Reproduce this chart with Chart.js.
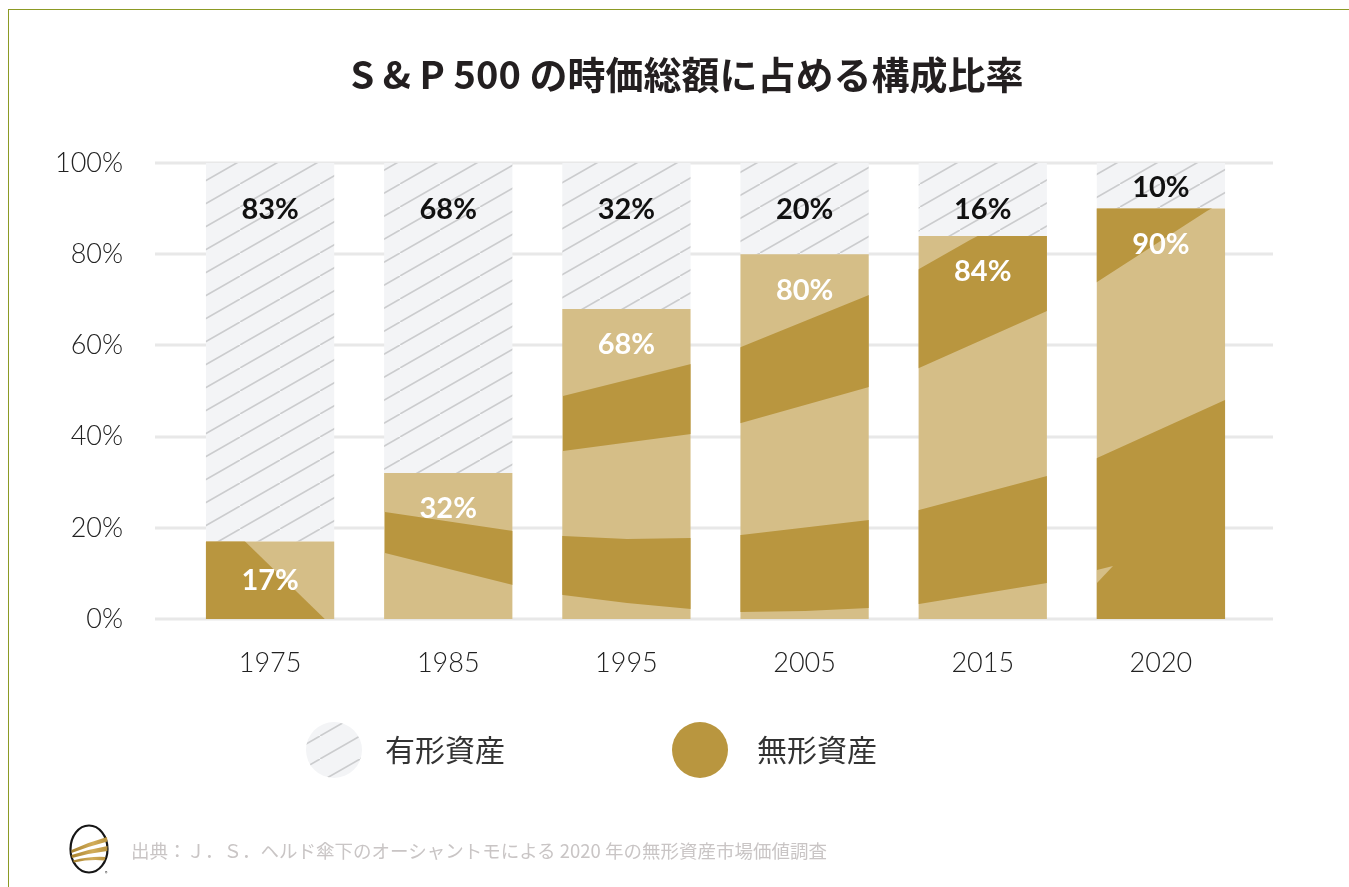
<!DOCTYPE html>
<html lang="ja">
<head>
<meta charset="utf-8">
<title>S &amp; P 500 の時価総額に占める構成比率</title>
<script src="https://cdn.jsdelivr.net/npm/chart.js@4.4.1/dist/chart.umd.min.js"></script>
<style>
    html, body { margin: 0; padding: 0; background: #fff; }
    #wrap { position: relative; width: 1349px; height: 887px; overflow: hidden; }
    #frame {
        position: absolute; left: 8px; top: 9px; width: 1400px; height: 900px;
        border-left: 1px solid #8c9a24; border-top: 1px solid #8c9a24;
    }
    #chart { position: absolute; left: 0; top: 0; }
    #source {
        position: absolute; left: 69px; top: 823px;
        display: flex; align-items: center;
        font-family: 'Noto Sans CJK JP', sans-serif; font-size: 18.5px;
        color: #c9c5c5; white-space: nowrap;
    }
    #source svg { margin-right: 20px; }
</style>
</head>
<body>
<div id="wrap">
    <div id="frame"></div>
    <canvas id="chart" width="1349" height="887"></canvas>
    <div id="source">
        <svg width="42" height="54" viewBox="0 0 42 54">
            <defs>
                <linearGradient id="gold" x1="0" x2="1" y1="0" y2="0">
                    <stop offset="0" stop-color="#a8822f"/>
                    <stop offset="0.6" stop-color="#d2ad5a"/>
                    <stop offset="1" stop-color="#b8923e"/>
                </linearGradient>
            </defs>
            <ellipse cx="20" cy="26" rx="18.5" ry="23.5" fill="#fff" stroke="#161616" stroke-width="2.2"/>
            <path d="M2.5,27 Q20,19 38,14 L38.4,18.5 Q21,23 2.5,30 Z" fill="url(#gold)"/>
            <path d="M2.5,32 Q21,26 38.5,23 L38.3,28 Q21,30 3,35 Z" fill="url(#gold)"/>
            <path d="M4,37.5 Q21,33 36.5,34 L35.5,37.5 Q21,36 5,39.5 Z" fill="url(#gold)"/>
            <text x="36" y="52" font-size="5" fill="#333">®</text>
        </svg>
        <span>出典：Ｊ．Ｓ．ヘルド傘下のオーシャントモによる 2020 年の無形資産市場価値調査</span>
    </div>
</div>
<script>
// Chart values
const years = ['1975', '1985', '1995', '2005', '2015', '2020'];
const intangible = [17, 32, 68, 80, 84, 90];
const tangible = [83, 68, 32, 20, 16, 10];
const seriesNames = ['無形資産', '有形資産'];
const chartTitle = 'S & P 500 の時価総額に占める構成比率';

const GOLD_LIGHT = '#d5be87';
const GOLD_DARK = '#b9963f';
const HATCH_BG = '#f3f4f6';
const HATCH_LINE = '#cbccce';

// Decorative swoosh texture inside the gold bars, given in a 1069 x 456
// reference frame of the plot area (origin at its top left: 181, 163)
const REF = { x: 181, y: 163, w: 1069, h: 456 };
const SWOOSH = [
    { color: GOLD_DARK, pts: [[200, 520], [223, 520], [333, 627], [200, 627]] },
    { color: GOLD_DARK, pts: [
        [385, 512], [513, 531], [563, 536], [627, 539], [691, 538], [741, 535], [869, 520],
        [919, 510], [1047, 476], [1097, 458], [1225, 400], [1245, 390],
        [1245, 630], [1097, 630], [1047, 583], [919, 604], [869, 608], [805, 611],
        [741, 612], [691, 609], [627, 603], [563, 595], [513, 585], [385, 553]
    ] },
    { color: GOLD_LIGHT, pts: [[1097, 570], [1113, 566], [1097, 583]] },
    { color: GOLD_DARK, pts: [
        [563, 396], [691, 364], [741, 347], [869, 295], [919, 269], [970, 240], [1047, 200],
        [1097, 140], [1245, 140], [1245, 190], [1207, 211], [1097, 282], [1047, 311],
        [919, 368], [869, 387], [741, 423], [691, 434], [563, 451]
    ] }
];

function makeHatch(ctx) {
    const tile = document.createElement('canvas');
    tile.width = 40;
    tile.height = 23;
    const t = tile.getContext('2d');
    t.fillStyle = HATCH_BG;
    t.fillRect(0, 0, 40, 23);
    t.strokeStyle = HATCH_LINE;
    t.lineWidth = 1.6;
    t.beginPath();
    t.moveTo(-4, 25.3);
    t.lineTo(44, -2.3);
    t.stroke();
    return ctx.createPattern(tile, 'repeat');
}

// grid lines run a little past the plot area on both sides
const wideGrid = {
    id: 'wideGrid',
    beforeDatasetsDraw(chart) {
        const { ctx, chartArea, scales: { y } } = chart;
        ctx.save();
        ctx.strokeStyle = '#e8e8e8';
        ctx.lineWidth = 3;
        y.ticks.forEach(t => {
            const py = Math.round(y.getPixelForValue(t.value));
            ctx.beginPath();
            ctx.moveTo(chartArea.left - 26, py);
            ctx.lineTo(chartArea.right + 23, py);
            ctx.stroke();
        });
        ctx.restore();
    }
};

const swoosh = {
    id: 'swoosh',
    afterDatasetDraw(chart, args) {
        if (args.index !== 0) return;
        const { ctx, chartArea: a } = chart;
        ctx.save();
        ctx.beginPath();
        args.meta.data.forEach(bar => {
            const p = bar.getProps(['x', 'y', 'base', 'width'], true);
            ctx.rect(p.x - p.width / 2, p.y, p.width, p.base - p.y);
        });
        ctx.clip();
        ctx.translate(a.left, a.top);
        ctx.scale(a.width / REF.w, a.height / REF.h);
        ctx.translate(-REF.x, -REF.y);
        SWOOSH.forEach(s => {
            ctx.fillStyle = s.color;
            ctx.beginPath();
            s.pts.forEach(([x, y], i) => (i ? ctx.lineTo(x, y) : ctx.moveTo(x, y)));
            ctx.closePath();
            ctx.fill();
        });
        ctx.restore();
    }
};

// percentage labels inside each segment
const segLabels = {
    id: 'segLabels',
    afterDatasetsDraw(chart) {
        const { ctx } = chart;
        ctx.save();
        ctx.font = "bold 29px Lato, 'Noto Sans', sans-serif";
        ctx.textAlign = 'center';
        ctx.textBaseline = 'middle';
        chart.data.datasets.forEach((ds, di) => {
            const meta = chart.getDatasetMeta(di);
            meta.data.forEach((bar, i) => {
                const p = bar.getProps(['x', 'y', 'base'], true);
                const h = p.base - p.y;
                let ly;
                if (di === 1) {
                    ly = h < 60 ? p.y + h / 2 + 2 : p.y + 47;
                    ctx.fillStyle = '#111';
                } else {
                    ly = h < 90 ? p.y + h / 2 : p.y + 36;
                    ctx.fillStyle = '#fff';
                }
                ctx.fillText(ds.data[i] + '%', p.x, ly);
            });
        });
        ctx.restore();
    }
};

// round legend markers below the axis
const circleLegend = {
    id: 'circleLegend',
    afterDraw(chart) {
        const { ctx } = chart;
        const order = [1, 0];
        const cx = [334, 700];
        const tx = [385, 757];
        ctx.save();
        order.forEach((di, k) => {
            const ds = chart.data.datasets[di];
            ctx.fillStyle = di === 0 ? GOLD_DARK : ds.backgroundColor;
            ctx.beginPath();
            ctx.arc(cx[k], 750, 28, 0, Math.PI * 2);
            ctx.fill();
            ctx.fillStyle = '#333';
            ctx.font = "30px 'Noto Sans CJK JP', sans-serif";
            ctx.textAlign = 'left';
            ctx.textBaseline = 'middle';
            ctx.fillText(ds.label, tx[k], 750);
        });
        ctx.restore();
    }
};

const canvas = document.getElementById('chart');
const ctx = canvas.getContext('2d');
const hatch = makeHatch(ctx);
const tickFont = { family: "Lato, 'Noto Sans', sans-serif", size: 27, weight: '300' };

new Chart(ctx, {
    type: 'bar',
    data: {
        labels: years,
        datasets: [
            { label: seriesNames[0], data: intangible, backgroundColor: GOLD_LIGHT },
            { label: seriesNames[1], data: tangible, backgroundColor: hatch }
        ].map(d => Object.assign(d, {
            borderWidth: 0,
            barPercentage: 0.72,
            categoryPercentage: 1
        }))
    },
    options: {
        responsive: false,
        animation: false,
        layout: { padding: { left: 25, right: 0, top: 52, bottom: 208 } },
        plugins: {
            legend: { display: false },
            tooltip: { enabled: false },
            title: {
                display: true,
                text: chartTitle,
                color: '#231f20',
                font: { family: "'Noto Sans CJK JP', sans-serif", size: 38, weight: 'bold', lineHeight: 1.2 },
                padding: { top: 0, bottom: 65.4 }
            }
        },
        scales: {
            x: {
                stacked: true,
                grid: { display: false },
                border: { display: false },
                ticks: { padding: 20, color: '#222', font: tickFont },
                afterFit: s => { s.height = 60; }
            },
            y: {
                stacked: true,
                min: 0,
                max: 100,
                grid: { display: false },
                border: { display: false },
                ticks: { stepSize: 20, padding: 50, color: '#222', font: tickFont, callback: v => v + '%' },
                afterFit: s => { s.width = 156; }
            },
            // empty right-hand spacer keeping the plot area clear of the right edge
            spacer: {
                type: 'linear',
                position: 'right',
                grid: { display: false },
                border: { display: false },
                ticks: { display: false },
                afterFit: s => { s.width = 99; }
            }
        }
    },
    plugins: [wideGrid, swoosh, segLabels, circleLegend]
});
</script>
</body>
</html>
